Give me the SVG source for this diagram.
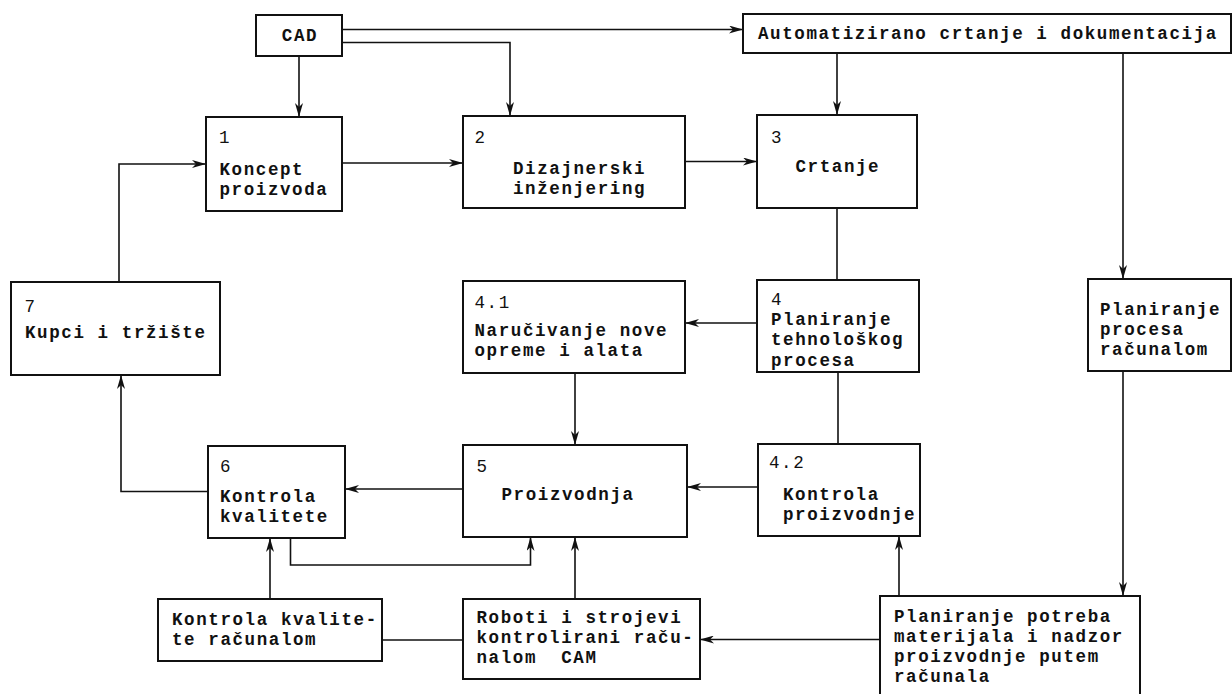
<svg xmlns="http://www.w3.org/2000/svg" width="1232" height="694" viewBox="0 0 1232 694">
<style>
.box{fill:#fff;stroke:#111;stroke-width:2}
.t{font-family:"Liberation Mono","Courier New",monospace;font-size:17.5px;letter-spacing:1.6px;fill:#111;font-weight:bold}
.n{font-family:"Liberation Mono","Courier New",monospace;font-size:17.5px;letter-spacing:1.6px;fill:#111}
.c{fill:none;stroke:#111;stroke-width:1.6}
</style>
<defs>
<marker id="ah" viewBox="0 0 14 8" refX="14" refY="4" markerWidth="14" markerHeight="8" markerUnits="userSpaceOnUse" orient="auto">
<path d="M0,0 L14,4 L0,8 L4,4 z" fill="#111"/>
</marker>
</defs>
<rect width="1232" height="694" fill="#fff"/>
<g id="connectors">
<path class="c" d="M342,29.5 H743" marker-end="url(#ah)"/>
<path class="c" d="M342,42.5 H510 V116" marker-end="url(#ah)"/>
<path class="c" d="M299,56 V117" marker-end="url(#ah)"/>
<path class="c" d="M342,163 H463" marker-end="url(#ah)"/>
<path class="c" d="M685,161.5 H757" marker-end="url(#ah)"/>
<path class="c" d="M837,53 V115" marker-end="url(#ah)"/>
<path class="c" d="M837,208 V280"/>
<path class="c" d="M757,323 H685" marker-end="url(#ah)"/>
<path class="c" d="M838,372 V444"/>
<path class="c" d="M575,373 V445" marker-end="url(#ah)"/>
<path class="c" d="M758,487 H687" marker-end="url(#ah)"/>
<path class="c" d="M463,489 H345" marker-end="url(#ah)"/>
<path class="c" d="M208,491.5 H121 V375" marker-end="url(#ah)"/>
<path class="c" d="M119,282 V164 H206" marker-end="url(#ah)"/>
<path class="c" d="M290.5,538 V565 H530.5 V537" marker-end="url(#ah)"/>
<path class="c" d="M270,599 V538" marker-end="url(#ah)"/>
<path class="c" d="M382,640 H463"/>
<path class="c" d="M575,599 V537" marker-end="url(#ah)"/>
<path class="c" d="M880,639.5 H700" marker-end="url(#ah)"/>
<path class="c" d="M899,596 V536" marker-end="url(#ah)"/>
<path class="c" d="M1123,53 V279" marker-end="url(#ah)"/>
<path class="c" d="M1123,371 V596" marker-end="url(#ah)"/>
</g>
<g id="cad">
<rect class="box" x="256" y="15" width="86" height="41"/>
<text class="t" x="300" y="41" text-anchor="middle">CAD</text>
</g>
<g id="auto">
<rect class="box" x="743" y="14" width="488" height="39"/>
<text class="t" x="758" y="39">Automatizirano crtanje i dokumentacija</text>
</g>
<g id="n1">
<rect class="box" x="206" y="117" width="136" height="94"/>
<text class="n" x="219" y="143">1</text>
<text class="t" x="219.5" y="175">Koncept</text>
<text class="t" x="219.5" y="195">proizvoda</text>
</g>
<g id="n2">
<rect class="box" x="463" y="116" width="222" height="92"/>
<text class="n" x="474.5" y="143">2</text>
<text class="t" x="513" y="174">Dizajnerski</text>
<text class="t" x="513" y="194">inženjering</text>
</g>
<g id="n3">
<rect class="box" x="757" y="115" width="160" height="93"/>
<text class="n" x="771" y="143">3</text>
<text class="t" x="795.5" y="172">Crtanje</text>
</g>
<g id="n7">
<rect class="box" x="11" y="282" width="209" height="93"/>
<text class="n" x="24.5" y="312">7</text>
<text class="t" x="25" y="338">Kupci i tržište</text>
</g>
<g id="n41">
<rect class="box" x="463" y="281" width="222" height="92"/>
<text class="n" x="474.5" y="308">4.1</text>
<text class="t" x="474.5" y="336">Naručivanje nove</text>
<text class="t" x="474.5" y="356">opreme i alata</text>
</g>
<g id="n4">
<rect class="box" x="757" y="280" width="162" height="92"/>
<text class="n" x="771" y="305">4</text>
<text class="t" x="771" y="325">Planiranje</text>
<text class="t" x="771" y="345">tehnološkog</text>
<text class="t" x="771" y="366">procesa</text>
</g>
<g id="proces">
<rect class="box" x="1088" y="279" width="143" height="92"/>
<text class="t" x="1100" y="315">Planiranje</text>
<text class="t" x="1100" y="335">procesa</text>
<text class="t" x="1100" y="355">računalom</text>
</g>
<g id="n6">
<rect class="box" x="208" y="446" width="137" height="92"/>
<text class="n" x="220" y="472">6</text>
<text class="t" x="220" y="502">Kontrola</text>
<text class="t" x="220" y="522">kvalitete</text>
</g>
<g id="n5">
<rect class="box" x="463" y="445" width="224" height="92"/>
<text class="n" x="476.5" y="472">5</text>
<text class="t" x="501.5" y="500">Proizvodnja</text>
</g>
<g id="n42">
<rect class="box" x="758" y="444" width="162" height="92"/>
<text class="n" x="769" y="468">4.2</text>
<text class="t" x="783" y="500">Kontrola</text>
<text class="t" x="783" y="520">proizvodnje</text>
</g>
<g id="kk">
<rect class="box" x="158" y="599" width="224" height="62"/>
<text class="t" x="172" y="625">Kontrola kvalite-</text>
<text class="t" x="172" y="645">te računalom</text>
</g>
<g id="roboti">
<rect class="box" x="463" y="599" width="237" height="80"/>
<text class="t" x="476.5" y="623">Roboti i strojevi</text>
<text class="t" x="476.5" y="643">kontrolirani raču-</text>
<text class="t" x="476.5" y="663" xml:space="preserve">nalom  CAM</text>
</g>
<g id="potreba">
<rect class="box" x="880" y="596" width="260" height="110"/>
<text class="t" x="894" y="622">Planiranje potreba</text>
<text class="t" x="894" y="642">materijala i nadzor</text>
<text class="t" x="894" y="662">proizvodnje putem</text>
<text class="t" x="894" y="682">računala</text>
</g>
</svg>
